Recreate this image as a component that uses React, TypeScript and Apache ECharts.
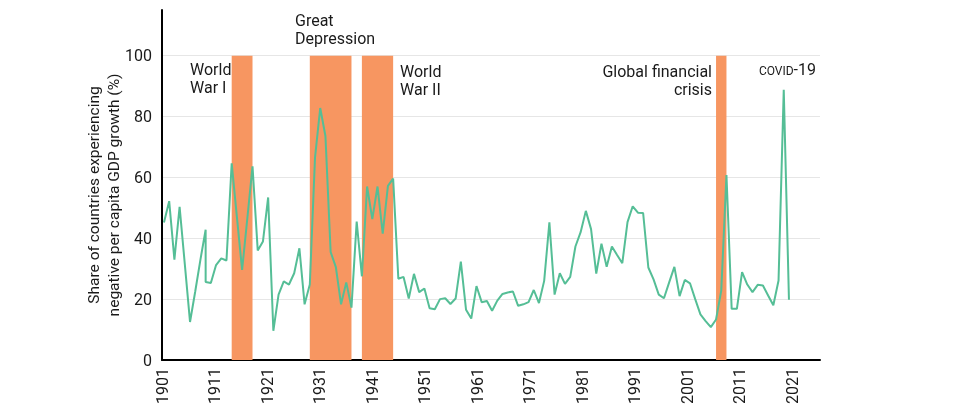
import React, { useEffect, useRef } from "react";
import * as echarts from "echarts";

// Years of observation (1909 appears twice in the source line: a vertical drop)
const years = [
  1901, 1902, 1903, 1904, 1905, 1906, 1907, 1908, 1909, 1909,
  1910, 1911, 1912, 1913, 1914, 1915, 1916, 1917, 1918, 1919,
  1920, 1921, 1922, 1923, 1924, 1925, 1926, 1927, 1928, 1929,
  1930, 1931, 1932, 1933, 1934, 1935, 1936, 1937, 1938, 1939,
  1940, 1941, 1942, 1943, 1944, 1945, 1946, 1947, 1948, 1949,
  1950, 1951, 1952, 1953, 1954, 1955, 1956, 1957, 1958, 1959,
  1960, 1961, 1962, 1963, 1964, 1965, 1966, 1967, 1968, 1969,
  1970, 1971, 1972, 1973, 1974, 1975, 1976, 1977, 1978, 1979,
  1980, 1981, 1982, 1983, 1984, 1985, 1986, 1987, 1988, 1989,
  1990, 1991, 1992, 1993, 1994, 1995, 1996, 1997, 1998, 1999,
  2000, 2001, 2002, 2003, 2004, 2005, 2006, 2007, 2008, 2009,
  2010, 2011, 2012, 2013, 2014, 2015, 2016, 2017, 2018, 2019,
  2020, 2021,
];

// Share of countries with negative per capita GDP growth (%)
const shares = [
  45.2, 52.2, 33.0, 50.3, 31.5, 12.5, 22.5, 33.0, 42.8, 25.6,
  25.3, 31.2, 33.4, 32.7, 64.6, 47.0, 29.6, 46.5, 63.6, 36.0,
  38.9, 53.4, 9.6, 21.5, 25.8, 24.8, 28.5, 36.7, 18.3, 24.8,
  66.5, 82.8, 73.6, 35.5, 30.5, 18.3, 25.5, 17.2, 45.5, 27.5,
  57.0, 46.3, 57.0, 41.5, 57.2, 59.6, 26.7, 27.3, 20.2, 28.3,
  22.3, 23.5, 17.0, 16.7, 20.0, 20.3, 18.4, 20.2, 32.3, 16.5,
  13.6, 24.3, 19.0, 19.4, 16.2, 19.5, 21.7, 22.2, 22.5, 17.8,
  18.3, 19.0, 23.0, 18.7, 26.0, 45.2, 21.5, 28.5, 25.0, 27.3,
  37.3, 42.0, 49.0, 43.0, 28.4, 38.2, 30.6, 37.3, 34.5, 31.8,
  45.3, 50.5, 48.4, 48.3, 30.4, 26.5, 21.5, 20.3, 25.5, 30.6,
  21.0, 26.3, 25.2, 20.0, 15.0, 12.8, 10.8, 13.3, 22.8, 60.8,
  16.8, 16.8, 28.9, 24.8, 22.3, 24.7, 24.5, 21.2, 18.0, 26.1,
  88.8, 19.8,
];

// Shaded crisis episodes
const episodeStarts = [1914, 1929, 1939, 2007];
const episodeEnds = [1918, 1937, 1945, 2009];
const episodeTop = 100;

// X tick labels (every 10 years)
const xTickLabels = [
  "1901", "1911", "1921", "1931", "1941", "1951",
  "1961", "1971", "1981", "1991", "2001", "2011", "2021",
];

const FONT = "Roboto";
const TEXT = "#1a1a1a";

export default function App() {
  const ref = useRef<HTMLDivElement>(null);

  useEffect(() => {
    document.body.style.margin = "0";
    if (!ref.current) return;
    const chart = echarts.init(ref.current, undefined, { renderer: "svg" });

    const option: any = {
      animation: false,
      textStyle: { fontFamily: FONT },
      grid: { left: 162, right: 160, top: 10, bottom: 47, containLabel: false },
      xAxis: [
        {
          type: "value",
          min: 0,
          max: 125.33,
          interval: 10,
          axisLine: { show: true, onZero: false, lineStyle: { color: "#000", width: 2 } },
          axisTick: { show: false },
          splitLine: { show: false },
          axisLabel: {
            rotate: 90,
            margin: 8,
            fontSize: 16,
            fontFamily: FONT,
            color: TEXT,
            showMaxLabel: false,
            formatter: (v: number) => xTickLabels[Math.round(v / 10)] ?? "",
          },
        },
        {
          type: "value",
          min: 1900.62,
          max: 2026.96,
          show: false,
        },
      ],
      yAxis: {
        type: "value",
        min: 0,
        max: 115,
        interval: 20,
        axisLine: { show: true, onZero: false, lineStyle: { color: "#000", width: 2 } },
        axisTick: { show: false },
        axisLabel: {
          fontSize: 16,
          fontFamily: FONT,
          color: TEXT,
          margin: 10,
          showMaxLabel: false,
        },
        splitLine: {
          show: true,
          showMaxLine: false,
          lineStyle: { color: "#e6e6e6", width: 1 },
        },
      },
      series: [
        {
          type: "line",
          xAxisIndex: 1,
          yAxisIndex: 0,
          data: years.map((y, i) => [y, shares[i]]),
          symbol: "none",
          showSymbol: false,
          lineStyle: { color: "#55BE96", width: 2 },
          z: 3,
          markArea: {
            silent: true,
            itemStyle: { color: "#F79661", opacity: 1 },
            data: episodeStarts.map((s, i) => [
              { xAxis: s, yAxis: 0 },
              { xAxis: episodeEnds[i], yAxis: episodeTop },
            ]),
          },
        },
      ],
      graphic: [
        {
          type: "text",
          x: 104,
          y: 195,
          rotation: Math.PI / 2,
          style: {
            text: "Share of countries experiencing\nnegative per capita GDP growth (%)",
            align: "center",
            verticalAlign: "middle",
            lineHeight: 20,
            fontSize: 15.5,
            fontFamily: FONT,
            fill: TEXT,
          },
        },
        {
          type: "text",
          x: 190,
          y: 78,
          style: {
            text: "World\nWar I",
            align: "left",
            verticalAlign: "middle",
            lineHeight: 18,
            fontSize: 16,
            fontFamily: FONT,
            fill: TEXT,
          },
        },
        {
          type: "text",
          x: 295,
          y: 29.5,
          style: {
            text: "Great\nDepression",
            align: "left",
            verticalAlign: "middle",
            lineHeight: 18,
            fontSize: 16,
            fontFamily: FONT,
            fill: TEXT,
          },
        },
        {
          type: "text",
          x: 400,
          y: 80,
          style: {
            text: "World\nWar II",
            align: "left",
            verticalAlign: "middle",
            lineHeight: 18,
            fontSize: 16,
            fontFamily: FONT,
            fill: TEXT,
          },
        },
        {
          type: "text",
          x: 712,
          y: 80,
          style: {
            text: "Global financial\ncrisis",
            align: "right",
            verticalAlign: "middle",
            lineHeight: 18,
            fontSize: 16,
            fontFamily: FONT,
            fill: TEXT,
          },
        },
        {
          type: "text",
          x: 816,
          y: 68,
          style: {
            text: "{sc|COVID}{n|-19}",
            align: "right",
            verticalAlign: "middle",
            fontFamily: FONT,
            fill: TEXT,
            rich: {
              sc: { fontSize: 12, fontFamily: FONT, fill: TEXT, lineHeight: 18, verticalAlign: "bottom" },
              n: { fontSize: 16, fontFamily: FONT, fill: TEXT, lineHeight: 18, verticalAlign: "bottom" },
            },
          },
        },
      ],
    };

    chart.setOption(option);
    return () => {
      chart.dispose();
    };
  }, []);

  return (
    <div
      ref={ref}
      style={{ position: "fixed", left: 0, top: 0, width: 980, height: 407 }}
    />
  );
}
